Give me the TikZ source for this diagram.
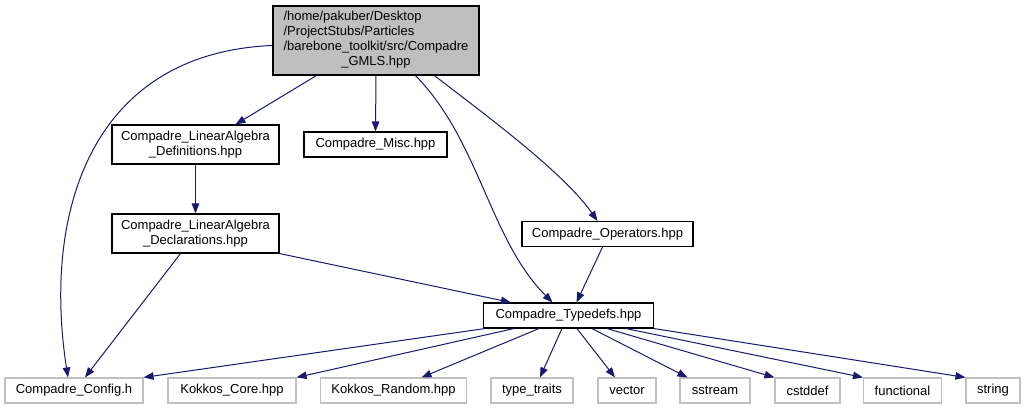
\documentclass[tikz,border=0pt]{standalone}
\usepackage{fontspec}
\setmainfont{Liberation Sans}
\usetikzlibrary{
    arrows.meta,
    calc
}
\definecolor{edgeBlue}{HTML}{191970}
\definecolor{rootGray}{HTML}{BFBFBF}
\definecolor{sysGray}{HTML}{C0C0C0}

\begin{document}
\begin{tikzpicture}[
  x=1pt, y=-1pt,
  box/.style={
    draw=black,
    fill=white,
    line width=1.1pt,
    inner sep=0pt,
    minimum height=25pt,
    align=center,
    font=\fontsize{13}{15}\selectfont
  },
  sysbox/.style={box, draw=sysGray},
  rootbox/.style={box, fill=rootGray},
  arr/.style={
    -{Triangle[length=10pt,width=7.5pt]},
    line width=1pt,
    edgeBlue
  }
]
\fill[white] (0,0) rectangle (1026,409);
\useasboundingbox (0,0) rectangle (1026,409);

%% --- Top ---
\node[rootbox, minimum width=206pt, minimum height=69pt] (root) at (376,40.5) {%
  \begin{tabular}{@{}l@{}}
  /home/pakuber/Desktop\\
  /ProjectStubs/Particles\\
  /barebone\_toolkit/src/Compadre\\
  \multicolumn{1}{@{}c@{}}{\_GMLS.hpp}
  \end{tabular}};

%% --- Middle ---
\node[box, minimum width=167pt, minimum height=39pt] (defs) at (195.5,144.5) {%
  Compadre\_LinearAlgebra\\\_Definitions.hpp};
\node[box, minimum width=143pt] (misc) at (375.5,144.5) {Compadre\_Misc.hpp};
\node[box, minimum width=167pt, minimum height=39pt] (decl) at (195.5,233.5) {%
  Compadre\_LinearAlgebra\\\_Declarations.hpp};
\node[box, minimum width=171pt] (ops) at (607.5,234) {Compadre\_Operators.hpp};
\node[box, minimum width=170pt] (typedefs) at (568.5,315.5) {Compadre\_Typedefs.hpp};

%% --- Bottom row (system headers) ---
\node[sysbox, minimum width=138pt] (config)     at (74,390.5)    {Compadre\_Config.h};
\node[sysbox, minimum width=128pt] (core)       at (232,390.5)   {Kokkos\_Core.hpp};
\node[sysbox, minimum width=146pt] (random)     at (393.5,390.5) {Kokkos\_Random.hpp};
\node[sysbox, minimum width=82pt]  (traits)     at (532,390.5)   {type\_traits};
\node[sysbox, minimum width=58pt]  (vector)     at (627,390.5)   {vector};
\node[sysbox, minimum width=70pt]  (sstream)    at (715,390.5)   {sstream};
\node[sysbox, minimum width=65pt]  (cstddef)    at (807.5,390.5) {cstddef};
\node[sysbox, minimum width=78pt]  (functional) at (902.5,390.5) {functional};
\node[sysbox, minimum width=54pt]  (string)     at (993,390.5)   {string};

%% --- From the root file ---
\draw[arr] ($(root.north west)+(0,40)$)
  .. controls +(-185,8) and +(-25,-160) .. ($(config.north)+(-6,0)$);
\draw[arr] ($(root.south west)+(44,0)$) -- ($(defs.north)+(40,0)$);
\draw[arr] (root.south) -- (misc.north);
\draw[arr] ($(root.south west)+(143,0)$)
  .. controls +(64,65) and +(-63,-63) .. ($(typedefs.north)+(-16,0)$);
\draw[arr] ($(root.south west)+(162,0)$)
  .. controls +(45,35) and +(-35,-50) .. ($(ops.north)+(-10,0)$);

%% --- Middle files ---
\draw[arr] (defs.south) -- (decl.north);
\draw[arr] ($(decl.south)+(-15,0)$) -- ($(config.north)+(11,0)$);
\draw[arr] (decl.south east) -- ($(typedefs.north west)+(28,0)$);
\draw[arr] ($(ops.south)+(-5,0)$) -- ($(typedefs.north)+(8,0)$);

%% --- Typedefs fan-out ---
\draw[arr] ($(typedefs.south west)+(2,0)$)   -- (config.north east);
\draw[arr] ($(typedefs.south west)+(31,0)$)  -- (core.north east);
\draw[arr] ($(typedefs.south west)+(56,0)$)  -- ($(random.north)+(28,0)$);
\draw[arr] ($(typedefs.south west)+(79,0)$)  -- ($(traits.north)+(8,0)$);
\draw[arr] ($(typedefs.south west)+(94,0)$)  -- ($(vector.north)+(-12,0)$);
\draw[arr] ($(typedefs.south west)+(109,0)$) -- ($(sstream.north west)+(8,0)$);
\draw[arr] ($(typedefs.south west)+(124,0)$) -- (cstddef.north west);
\draw[arr] ($(typedefs.south west)+(143,0)$) -- (functional.north west);
\draw[arr] (typedefs.south east)             -- (string.north west);

\end{tikzpicture}
\end{document}
